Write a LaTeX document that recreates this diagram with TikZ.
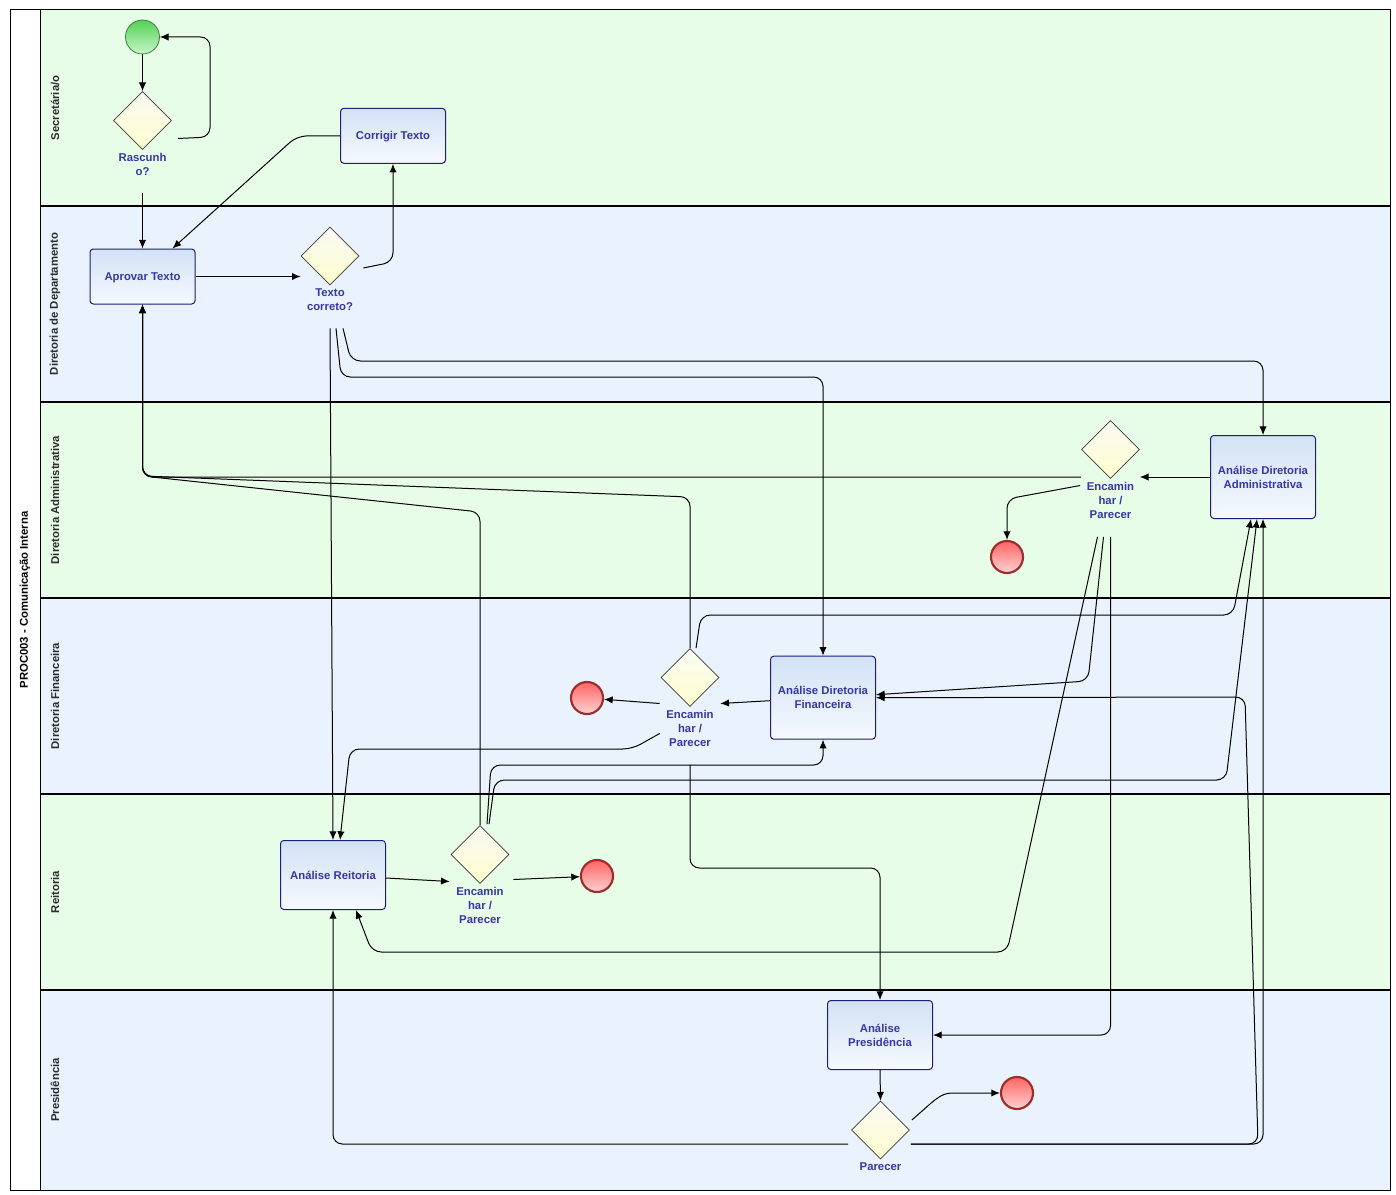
\documentclass[tikz,border=0pt]{standalone}
\usepackage{fontspec}
\setmainfont{Liberation Sans}
\usetikzlibrary{shapes.geometric,arrows.meta,calc}

\definecolor{lanegreen}{RGB}{232,253,232}
\definecolor{laneblue}{RGB}{234,242,253}
\definecolor{labelblue}{RGB}{55,55,165}
\definecolor{lanetext}{RGB}{45,45,45}
\definecolor{taskborder}{RGB}{30,30,120}
\definecolor{tasktop}{RGB}{210,226,245}
\definecolor{taskbot}{RGB}{246,249,254}
\definecolor{gatetop}{RGB}{250,250,246}
\definecolor{gatebot}{RGB}{255,255,205}
\definecolor{gateborder}{RGB}{60,60,60}
\definecolor{endtop}{RGB}{255,100,100}
\definecolor{endbot}{RGB}{255,210,210}
\definecolor{endborder}{RGB}{155,45,45}
\definecolor{starttop}{RGB}{85,210,85}
\definecolor{startbot}{RGB}{200,245,200}
\definecolor{startborder}{RGB}{60,130,60}

\newcommand\diagfont{\fontsize{8.5}{10.5}\selectfont\bfseries}

\begin{document}
\begin{tikzpicture}[x=0.75pt,y=-0.75pt,
  tasknode/.style={rectangle, rounded corners=2.5pt, draw=taskborder, line width=0.75pt,
    top color=tasktop, bottom color=taskbot, minimum width=78.75pt,
    align=center, text=labelblue, font=\diagfont, inner sep=0pt},
  taskshort/.style={tasknode, minimum height=41.25pt, text depth=0pt},
  taskmid/.style={tasknode, minimum height=51.75pt},
  tasktall/.style={tasknode, minimum height=62.25pt},
  gate/.style={diamond, aspect=1, draw=gateborder, line width=0.5pt,
    top color=gatetop, bottom color=gatebot, minimum width=43.5pt,
    minimum height=43.5pt, inner sep=0pt},
  glabel/.style={align=center, text=labelblue, font=\diagfont, inner sep=0pt, anchor=north},
  endev/.style={circle, draw=endborder, line width=1.6pt, top color=endtop,
    bottom color=endbot, minimum size=24pt, inner sep=0pt},
  startev/.style={circle, draw=startborder, line width=0.6pt, top color=starttop,
    bottom color=startbot, minimum size=25.5pt, inner sep=0pt},
  lanelabel/.style={rotate=90, font=\diagfont, text=lanetext, inner sep=0pt},
  flow/.style={draw=black, line width=0.75pt, rounded corners=7pt,
    -{Latex[length=6.5pt,width=5.5pt]}},
  sep/.style={draw=black, line width=1.5pt}
]
\useasboundingbox (0,0) rectangle (1396,1195);
\fill[white] (0,0) rectangle (1396,1195);

% lanes
\fill[lanegreen] (40,10) rectangle (1390,206);
\fill[laneblue]  (40,206) rectangle (1390,402);
\fill[lanegreen] (40,402) rectangle (1390,598);
\fill[laneblue]  (40,598) rectangle (1390,794);
\fill[lanegreen] (40,794) rectangle (1390,990);
\fill[laneblue]  (40,990) rectangle (1390,1190);
\draw[line width=0.75pt] (10,10) rectangle (1390,1190);
\draw[line width=0.75pt] (40,10) -- (40,1190);
\foreach \yy in {206,402,598,794,990} \draw[sep] (40,\yy) -- (1390,\yy);

% pool and lane titles
\node[rotate=90, font=\diagfont, inner sep=0pt] (pool) at (25,600) {PROC003 - Comunicação Interna};
\node[lanelabel] (l1) at (55,108) {Secretária/o};
\node[lanelabel] (l2) at (55,304) {Diretoria de Departamento};
\node[lanelabel] (l3) at (55,500) {Diretoria Administrativa};
\node[lanelabel] (l4) at (55,696) {Diretoria Financeira};
\node[lanelabel] (l5) at (55,892) {Reitoria};
\node[lanelabel] (l6) at (55,1090) {Presidência};

% flow elements
\node[startev] (start) at (142.5,37) {};
\node[gate] (gw1) at (142.5,120.5) {};
\node[glabel] (gw1l) at ($(gw1.south)+(0,3.5)$) {Rascunh\\o?};
\node[taskshort] (corr) at (393,135.8) {Corrigir Texto};
\node[taskshort] (apr) at (142.5,276.5) {Aprovar Texto};
\node[gate] (gw2) at (330,256) {};
\node[glabel] (gw2l) at ($(gw2.south)+(0,3.5)$) {Texto\\correto?};
\node[tasktall] (adm) at (1263,477) {Análise Diretoria\\Administrativa};
\node[gate] (gw3) at (1110.5,449.5) {};
\node[glabel] (gw3l) at ($(gw3.south)+(0,3.5)$) {Encamin\\har /\\Parecer};
\node[endev] (end1) at (1007,557) {};
\node[tasktall] (fin) at (823,697.7) {Análise Diretoria\\Financeira};
\node[gate] (gw4) at (690,677.5) {};
\node[glabel] (gw4l) at ($(gw4.south)+(0,3.5)$) {Encamin\\har /\\Parecer};
\node[endev] (end2) at (587,698) {};
\node[taskmid] (reit) at (333,875) {Análise Reitoria};
\node[gate] (gw5) at (480,854.5) {};
\node[glabel] (gw5l) at ($(gw5.south)+(0,3.5)$) {Encamin\\har /\\Parecer};
\node[endev] (end3) at (597,876) {};
\node[taskmid] (pres) at (880,1035) {Análise\\Presidência};
\node[gate] (gw6) at (880.5,1130) {};
\node[glabel] (gw6l) at ($(gw6.south)+(0,3.5)$) {Parecer};
\node[endev] (end4) at (1017,1093) {};

% Secretária/o
\draw[flow] (start) -- (gw1);
\draw[flow] ($(gw1.east)+(6,18)$) -- (210,137) -- (210,37) -- (start.east);
\draw[flow] ($(gw1.south)+(0,43)$) -- (apr.north);
\draw[flow] (corr.west) -- (297,136) -- ($(apr.north)+(30,0)$);

% Diretoria de Departamento
\draw[flow] (apr.east) -- (gw2.west |- apr.east);
\draw[flow] ($(gw2.east)+(4,12)$) -- (393,262) -- (corr.south);
\draw[flow] ($(gw2.south)+(0,43)$) -- (reit.north);
\draw[flow] ($(gw2.south)+(6,43)$) -- (341,377) -- (823,377) -- (fin.north);
\draw[flow] ($(gw2.south)+(13,43)$) -- (351,361) -- (1263,361) -- (adm.north);

% Diretoria Administrativa
\draw[flow] (adm.west) -- (gw3.east |- adm.west);
\draw[flow] (gw3.west |- adm.west) -- (142.5,477) -- (apr.south);
\draw[flow] ($(gw3.west)+(-1,36)$) -- (1007,499) -- (end1.north);
\draw[flow] ($(gw3.south)+(-7,58)$) -- (1088,681) -- ($(fin.east)+(0,-3)$);
\draw[flow] ($(gw3.south)+(-13,58)$) -- (1007,952) -- (372,952) -- ($(reit.south)+(23,0)$);
\draw[flow] ($(gw3.south)+(0,58)$) -- (1110.5,1035) -- (pres.east);

% Diretoria Financeira
\draw[flow] ($(fin.west)+(0,3)$) -- ($(gw4.east)+(1,26)$);
\draw[flow] ($(gw4.west)+(-1,26)$) -- (end2);
\draw[flow] (gw4.north) -- (690,497) -- (142.5,476) -- (apr.south);
\draw[flow] ($(gw4.west)+(-1,56)$) -- (632,749) -- (350,749) -- ($(reit.north)+(7,0)$);
\draw[flow] ($(gw4.north)+(6,0)$) -- (701,615) -- (1233,615) -- ($(adm.south)+(-12,0)$);
\draw[flow] ($(gw4.south)+(0,58)$) -- (690,868) -- (880,868) -- (pres.north);

% Reitoria
\draw[flow] ($(reit.east)+(0,3)$) -- ($(gw5.west)+(-1,27)$);
\draw[flow] ($(gw5.east)+(4,25)$) -- (end3);
\draw[flow] (gw5.north) -- (480,512) -- (142.5,476) -- (apr.south);
\draw[flow] ($(gw5.north)+(7,-1)$) -- (491,765) -- (823,765) -- (fin.south);
\draw[flow] ($(gw5.north)+(9,-1)$) -- (495,780) -- (1226,780) -- ($(adm.south)+(-6,0)$);

% Presidência
\draw[flow] (pres.south) -- (gw6.north);
\draw[flow] ($(gw6.east)+(2,-10)$) .. controls (935,1100) and (940,1093) .. (962,1093) -- (end4);
\draw[flow] ($(gw6.west)+(-3,14)$) -- (333,1144) -- (reit.south);
\draw[flow] ($(gw6.east)+(1,14)$) -- (1263,1144) -- (adm.south);
\draw[flow] ($(gw6.east)+(1,14)$) -- (1258,1144) -- (1245,697) -- (fin.east);
\end{tikzpicture}
\end{document}
